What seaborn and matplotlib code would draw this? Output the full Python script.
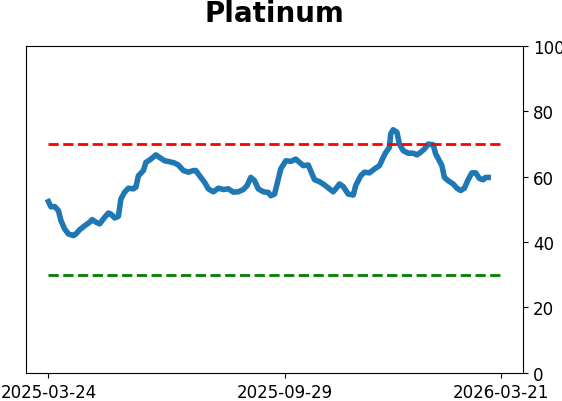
import pandas as pd
import matplotlib
matplotlib.use("Agg")
import matplotlib.pyplot as plt
import seaborn as sns

# values
start_date = "2025-03-24"
end_date = "2026-03-21"
mid_date = "2025-09-29"

day_offsets = [
    0, 2, 5, 8, 10, 13, 16, 20, 22, 25, 29, 33, 35, 38, 41, 45, 48, 50, 53, 56,
    58, 61, 64, 68, 70, 72, 76, 78, 82, 86, 89, 93, 97, 101, 104, 108, 112, 116,
    118, 122, 125, 128, 132, 136, 140, 144, 148, 152, 156, 159, 162, 165, 168,
    172, 176, 178, 181, 184, 186, 190, 194, 198, 201, 204, 208, 211, 213, 217,
    221, 225, 228, 230, 233, 236, 240, 244, 246, 250, 253, 257, 261, 265, 268,
    270, 273, 274, 276, 279, 281, 284, 288, 292, 295, 298, 301, 304, 308, 310,
    312, 315, 317, 320, 324, 327, 330, 333, 336, 339, 342, 345, 348, 350, 352,
]
platinum = [
    52.4, 50.8, 50.9, 49.6, 46.6, 44.0, 42.5, 42.0, 42.5, 43.8, 45.0, 46.1, 46.9,
    46.1, 45.6, 47.6, 48.9, 48.6, 47.4, 47.9, 53.2, 55.3, 56.5, 56.3, 56.8, 60.3,
    61.9, 64.4, 65.4, 66.7, 65.9, 64.9, 64.6, 64.2, 63.6, 61.9, 61.4, 61.9, 61.9,
    59.8, 58.3, 56.3, 55.4, 56.5, 56.1, 56.3, 55.3, 55.4, 56.1, 57.3, 59.8, 58.8,
    56.3, 55.4, 55.2, 54.2, 54.7, 59.3, 62.4, 64.9, 64.7, 65.4, 64.4, 63.4, 63.6,
    60.9, 59.1, 58.5, 57.5, 56.3, 55.4, 56.3, 57.8, 57.0, 54.7, 54.4, 57.3, 60.3,
    61.4, 61.2, 62.4, 63.4, 65.9, 67.4, 69.0, 73.1, 74.4, 73.6, 70.0, 68.0, 67.2,
    67.2, 66.7, 67.5, 68.5, 70.0, 69.8, 67.0, 65.6, 63.4, 59.8, 58.8, 57.8, 56.5,
    55.8, 56.5, 59.1, 61.2, 61.2, 59.5, 59.1, 59.8, 59.8,
]
upper_level = 70
lower_level = 30

df = pd.DataFrame({
    "date": pd.Timestamp(start_date) + pd.to_timedelta(day_offsets, unit="D"),
    "value": platinum,
})

fig = plt.figure(figsize=(5.62, 4.02), dpi=100)
ax = fig.add_axes([0.046, 0.070, 0.885, 0.813])

sns.lineplot(data=df, x="date", y="value", ax=ax, color="#1f77b4", linewidth=4)

t0, t1 = pd.Timestamp(start_date), pd.Timestamp(end_date)
ax.hlines(upper_level, t0, t1, colors="r", linestyles="--", linewidth=2)
ax.hlines(lower_level, t0, t1, colors="g", linestyles="--", linewidth=2)

pad = (t1 - t0) * 0.05
ax.set_xlim(t0 - pad, t1 + pad)
ax.set_ylim(0, 100)
ax.set_xticks([t0, pd.Timestamp(mid_date), t1])
ax.set_xticklabels([start_date, mid_date, end_date])
ax.yaxis.tick_right()
ax.tick_params(labelsize=12)
ax.set_xlabel("")
ax.set_ylabel("")
ax.set_title("Platinum", fontsize=20, fontweight="bold", pad=18)

plt.savefig("out.png", dpi=100)
